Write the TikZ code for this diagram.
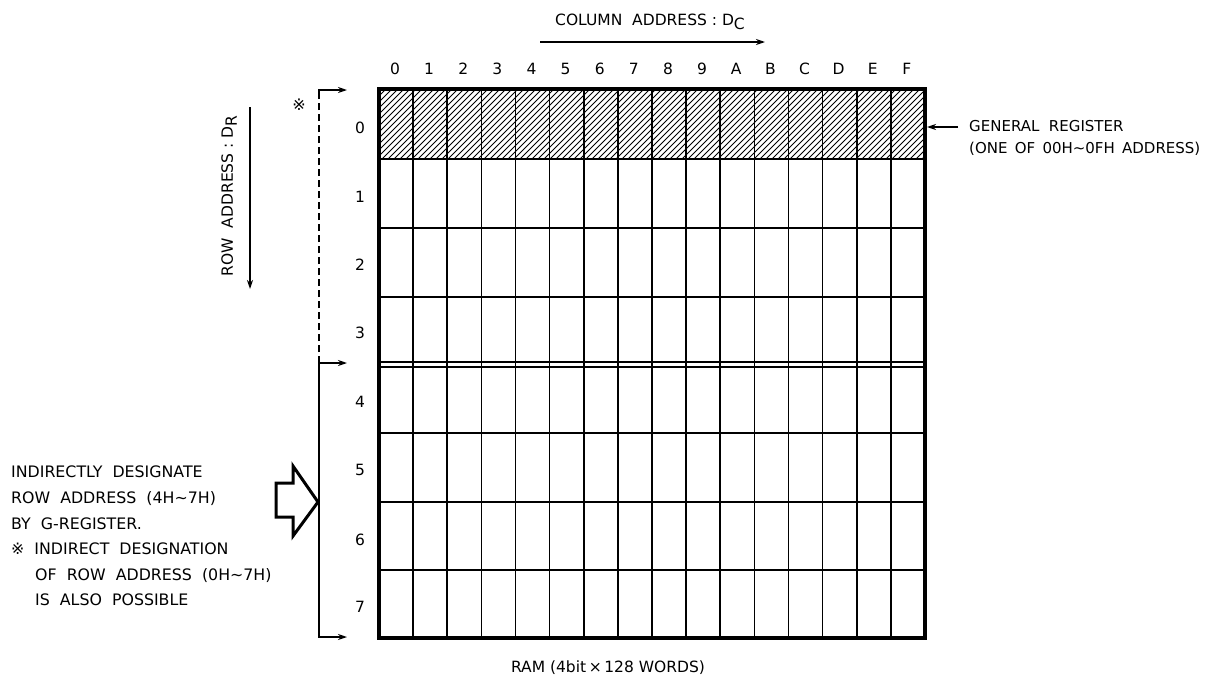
\documentclass[tikz,border=0pt]{standalone}
\usepackage{fontspec}
\setmainfont{DejaVu Sans}
\usetikzlibrary{arrows.meta}
\tikzset{
  lbl/.style={font=\fontsize{15.5}{18}\selectfont, inner sep=0pt},
  thinline/.style={line width=1.6pt},
  frame/.style={line width=3.6pt},
  hatch/.style={line width=0.8pt},
  arr/.style={line width=1.6pt, -{Stealth[length=9pt,width=6pt]}},
  barr/.style={line width=1.6pt, {Stealth[length=9pt,width=6pt]}-{Stealth[length=9pt,width=6pt]}},
  bigarrow/.style={line width=3pt, line join=miter},
}
\newcommand{\wv}{∼}
\begin{document}
\begin{tikzpicture}[x=1pt,y=-1pt]
\useasboundingbox (0,0) rectangle (1211,675);
% grid geometry
\def\gl{379}\def\gr{925}\def\gt{89}\def\gb{638}
% hatching in row 0
\begin{scope}
  \clip (\gl,\gt) rectangle (\gr,159);
  \foreach \k in {0,...,105} {\draw[hatch] (\gl-75+\k*6,159) -- ++(75,-75);}
\end{scope}
% vertical grid lines
\foreach \i in {1,...,15} {\draw[thinline] ({\gl+34.125*\i},\gt) -- ({\gl+34.125*\i},\gb);}
% horizontal grid lines
\foreach \y in {159,228,297,433,502,570} {\draw[thinline] (\gl,\y) -- (\gr,\y);}
\draw[line width=1.3pt] (\gl,362) -- (\gr,362);
\draw[line width=1.3pt] (\gl,367) -- (\gr,367);
% frame
\draw[frame] (\gl,\gt) rectangle (\gr,\gb);
% column labels
\foreach \c [count=\i from 0] in {0,1,2,3,4,5,6,7,8,9,A,B,C,D,E,F}
  {\node[lbl] (col\c) at ({\gl+16+34.125*\i},69) {\c};}
% row labels
\foreach \r/\y in {0/128,1/197,2/265,3/333,4/402,5/470,6/540,7/607}
  {\node[lbl] (row\r) at (360,\y) {\r};}
% column address
\node[lbl] (coladdr) at (650,22) {COLUMN\ \ ADDRESS\ :\ D\raisebox{-4pt}{C}};
\coordinate (caS) at (540,42);
\coordinate (caE) at (765,42);
\draw[arr] (caS) -- (caE);
% row address
\node[lbl, rotate=90] (rowaddr) at (229,196) {ROW\ \ ADDRESS\ :\ D\raisebox{-4pt}{R}};
\coordinate (raS) at (250,107);
\coordinate (raE) at (250,289);
\draw[arr] (raS) -- (raE);
% brackets
\coordinate (bTop) at (347,90);
\coordinate (bTopC) at (319,90);
\coordinate (bMidC) at (319,363);
\coordinate (bMid) at (347,363);
\coordinate (bBotC) at (319,637);
\coordinate (bBot) at (347,637);
\draw[line width=1.6pt, dash pattern=on 7pt off 4pt] (bMidC) -- (319,96);
\draw[arr] (319,97) -- (bTopC) -- (bTop);
\draw[barr] (bMid) -- (bMidC) -- (bBotC) -- (bBot);
\node[font=\fontsize{16}{18}\selectfont, inner sep=0pt] (mark) at (299,105) {※};
% big hollow arrow
\draw[bigarrow] (276,483) -- (293,483) -- (293,466) -- (318,502) -- (293,536) -- (293,517) -- (276,517) -- cycle;
% left text
\node[lbl, font=\fontsize{15.8}{25.6}\selectfont, anchor=north west, align=left] (note) at (11,466)
 {INDIRECTLY\ \ DESIGNATE\\
  ROW\ \ ADDRESS\ \ (4H\wv 7H)\\
  BY\ \ G-REGISTER.\\
  ※\ \ INDIRECT\ \ DESIGNATION\\
  \hspace*{24pt}OF\ \ ROW\ \ ADDRESS\ \ (0H\wv 7H)\\
  \hspace*{24pt}IS\ \ ALSO\ \ POSSIBLE};
% general register
\node[lbl, anchor=west, align=left, font=\fontsize{15}{22}\selectfont] (greg) at (969,138)
 {GENERAL\ \ REGISTER\\(ONE\ \,OF\ \,00H\wv 0FH\ \,ADDRESS)};
\coordinate (gregS) at (958,127);
\coordinate (gridE) at (927,127);
\draw[arr] (gregS) -- (gridE);
% bottom caption
\node[lbl] (ram) at (608,668) {RAM (4bit\,×\,128 WORDS)};
\end{tikzpicture}
\end{document}
